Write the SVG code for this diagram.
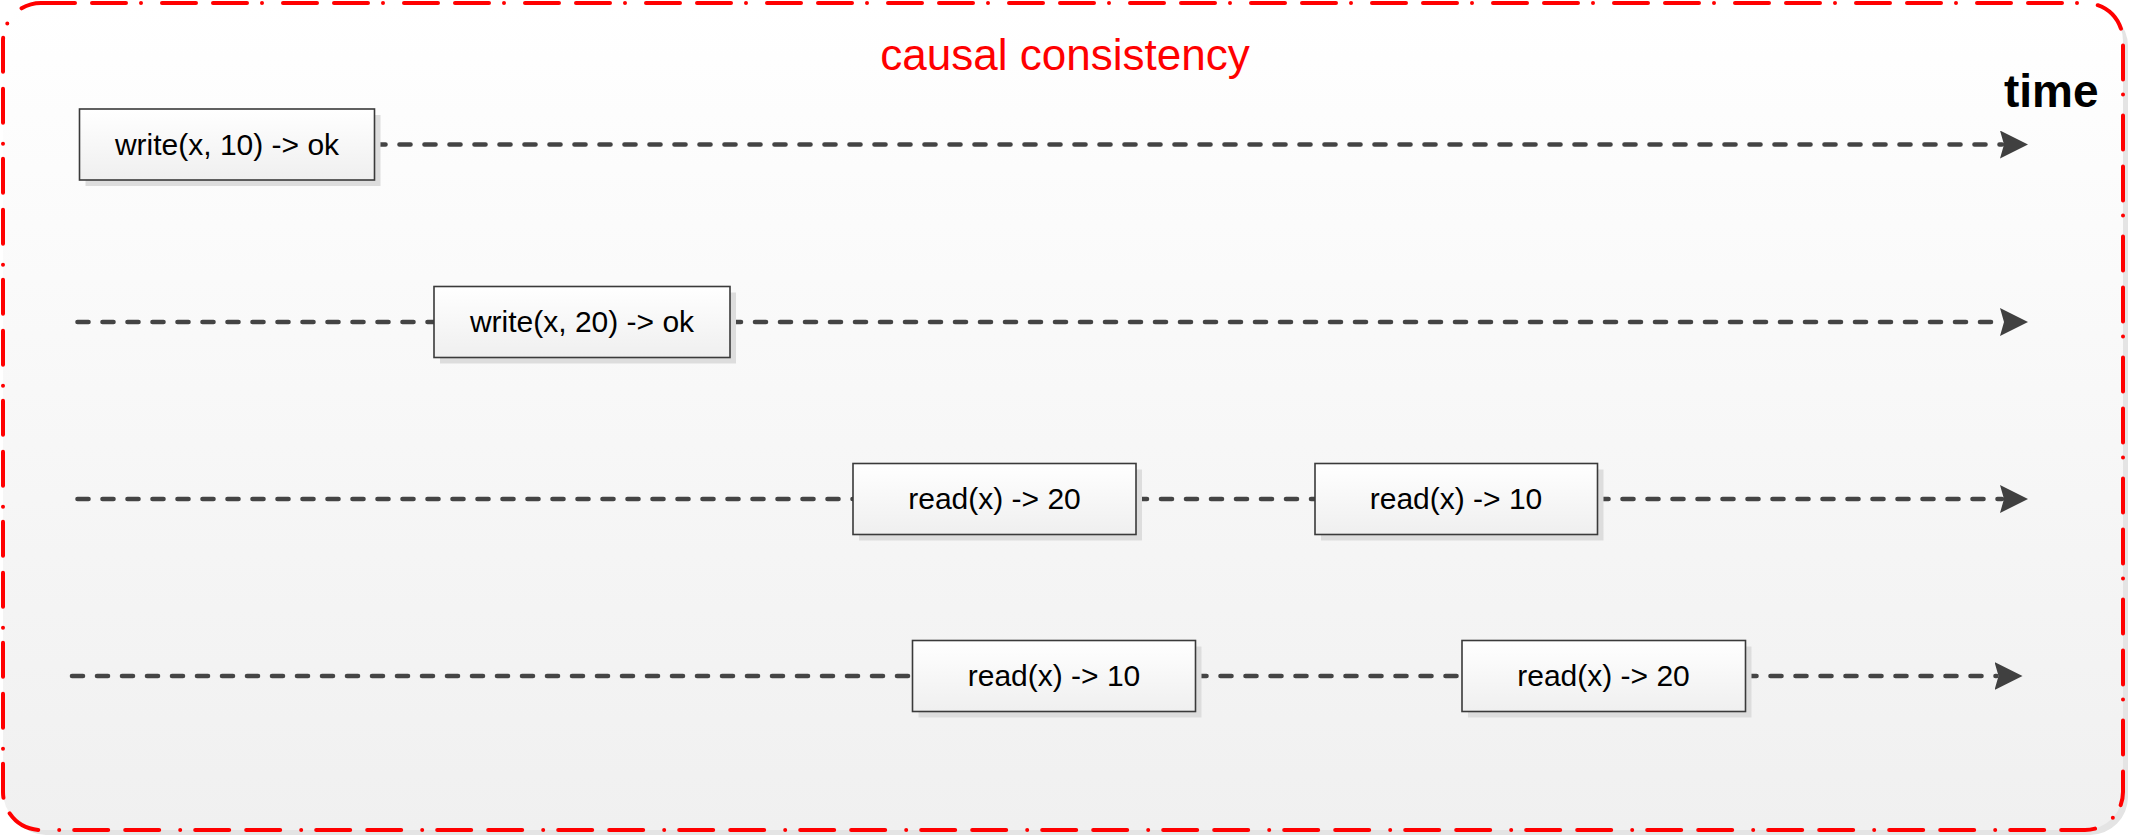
<svg xmlns="http://www.w3.org/2000/svg" width="2132" height="839" viewBox="0 0 2132 839">
  <defs>
    <linearGradient id="frameFill" x1="0" y1="0" x2="0" y2="1">
      <stop offset="0" stop-color="#ffffff"/>
      <stop offset="1" stop-color="#f0f0f0"/>
    </linearGradient>
    <linearGradient id="boxFill" x1="0" y1="0" x2="0" y2="1">
      <stop offset="0" stop-color="#ffffff"/>
      <stop offset="1" stop-color="#efefef"/>
    </linearGradient>
    <marker id="arrow" markerUnits="userSpaceOnUse" viewBox="0 0 28 28" markerWidth="28" markerHeight="28" refX="2" refY="14" orient="auto">
      <path d="M0,0 L28,14 L0,28 L4,14 Z" fill="#404040"/>
    </marker>
    <style>
      .frame { fill: url(#frameFill); stroke: #ff0000; stroke-width: 4; stroke-linecap: round; stroke-dasharray: 34 17 34 15 0 21; }
      .frameShadow { fill: #e4e4e4; }
      .box { fill: url(#boxFill); stroke: #3a3a3a; stroke-width: 1.6; }
      .shadow { fill: #dddddd; }
      .lbl { font-family: "Liberation Sans", Arial, sans-serif; font-size: 30px; fill: #000000; text-anchor: middle; }
      .title { font-family: "Liberation Sans", Arial, sans-serif; font-size: 44px; fill: #ff0000; text-anchor: middle; }
      .time { font-family: "Liberation Sans", Arial, sans-serif; font-size: 46px; font-weight: bold; fill: #000000; }
      .conn { fill: none; stroke: #444444; stroke-width: 4.6; stroke-linecap: round; stroke-dasharray: 11 14; }
    </style>
  </defs>

  <rect width="2132" height="839" fill="#ffffff"/>

  <g id="frame">
    <rect class="frameShadow" x="8" y="8" width="2120" height="827" rx="38" ry="38"/>
    <rect class="frame" x="3" y="3" width="2120" height="827" rx="38" ry="38"/>
    <text class="title" x="1065" y="70">causal consistency</text>
    <text class="time" x="2004" y="106.5">time</text>
  </g>

  <g id="connectors">
    <path class="conn" d="M374.5,144.5 H2002" marker-end="url(#arrow)"/>
    <path class="conn" d="M77.5,322 H434"/>
    <path class="conn" d="M730,322 H2002" marker-end="url(#arrow)"/>
    <path class="conn" d="M77.5,499 H853"/>
    <path class="conn" d="M1136,499 H1315"/>
    <path class="conn" d="M1597.5,499 H2002" marker-end="url(#arrow)"/>
    <path class="conn" d="M72,676 H912.5"/>
    <path class="conn" d="M1195.5,676 H1462"/>
    <path class="conn" d="M1745.5,676 H1996.5" marker-end="url(#arrow)"/>
  </g>

  <g id="node-write10">
    <rect class="shadow" x="85.5" y="115" width="295" height="71"/>
    <rect class="box" x="79.5" y="109" width="295" height="71"/>
    <text class="lbl" x="227" y="155">write(x, 10) -&gt; ok</text>
  </g>

  <g id="node-write20">
    <rect class="shadow" x="440" y="292.5" width="296" height="71"/>
    <rect class="box" x="434" y="286.5" width="296" height="71"/>
    <text class="lbl" x="582" y="332">write(x, 20) -&gt; ok</text>
  </g>

  <g id="node-p3-read20">
    <rect class="shadow" x="859" y="469.5" width="283" height="71"/>
    <rect class="box" x="853" y="463.5" width="283" height="71"/>
    <text class="lbl" x="994.5" y="509">read(x) -&gt; 20</text>
  </g>

  <g id="node-p3-read10">
    <rect class="shadow" x="1321" y="469.5" width="282.5" height="71"/>
    <rect class="box" x="1315" y="463.5" width="282.5" height="71"/>
    <text class="lbl" x="1456" y="509">read(x) -&gt; 10</text>
  </g>

  <g id="node-p4-read10">
    <rect class="shadow" x="918.5" y="646.5" width="283" height="71"/>
    <rect class="box" x="912.5" y="640.5" width="283" height="71"/>
    <text class="lbl" x="1054" y="686">read(x) -&gt; 10</text>
  </g>

  <g id="node-p4-read20">
    <rect class="shadow" x="1468" y="646.5" width="283.5" height="71"/>
    <rect class="box" x="1462" y="640.5" width="283.5" height="71"/>
    <text class="lbl" x="1603.5" y="686">read(x) -&gt; 20</text>
  </g>
</svg>
